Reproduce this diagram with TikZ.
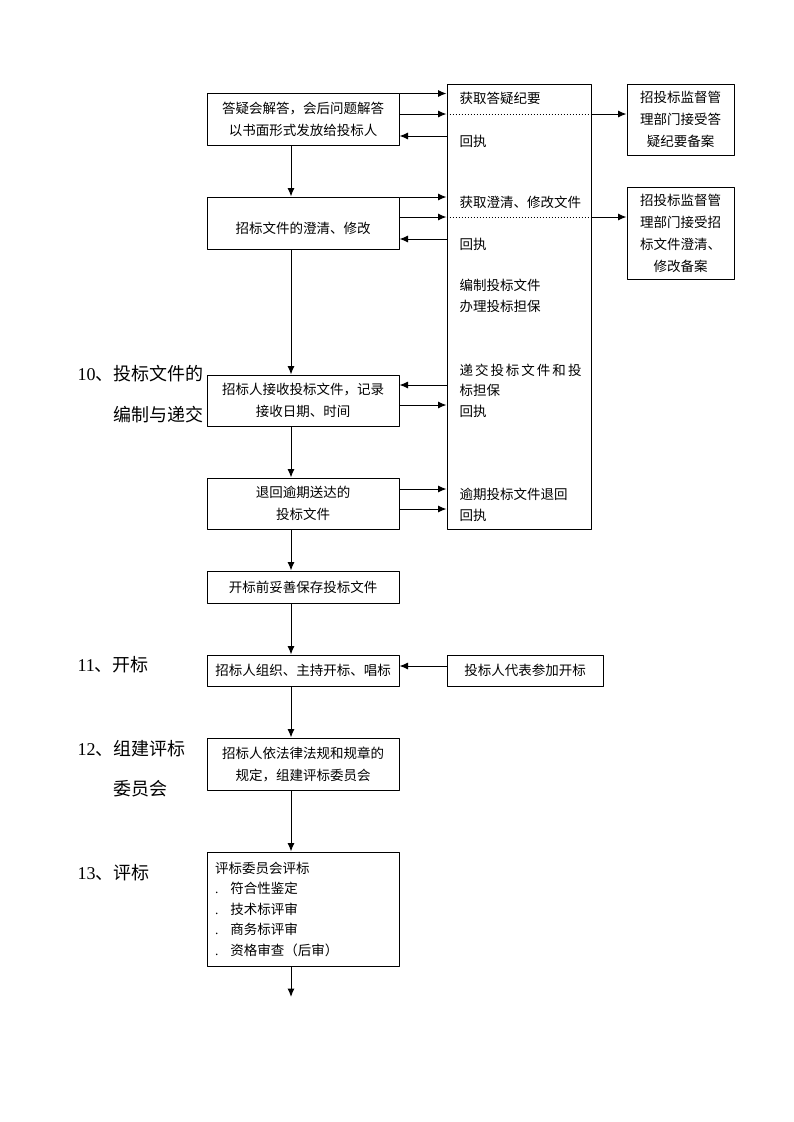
\documentclass[tikz,border=0pt]{standalone}
\usepackage{fontspec}
\setmainfont{Liberation Serif}
\newfontfamily\cjk{Noto Sans CJK SC}
\usetikzlibrary{arrows.meta}

\tikzset{
  box/.style={draw, line width=1pt, inner sep=0pt, align=center, minimum width=192pt},
  sidebox/.style={draw, line width=1pt, inner sep=0pt, align=center, minimum width=107pt},
  note/.style={anchor=west, inner sep=0pt, align=left},
  stage/.style={anchor=west, inner sep=0pt, font=\cjk\fontsize{18}{22}\selectfont}
}

\begin{document}
\begin{tikzpicture}[x=1pt,y=-1pt,line join=round,>={Latex[length=8.5pt,width=7pt]},font=\cjk\fontsize{13.5}{22}\selectfont,line width=1pt]
\useasboundingbox (0,0) rectangle (793,1122);
% trục dọc chính
\coordinate (spine) at (291,0);
\coordinate (tail) at (291,997);

% các ô bên trái
\node[box, minimum height=52pt] (A) at (303,119) {答疑会解答，会后问题解答\\以书面形式发放给投标人};
\node[box, minimum height=52pt] (B) at (303,223) {\\招标文件的澄清、修改};
\node[box, minimum height=51pt] (C) at (303,400.5) {招标人接收投标文件，记录\\接收日期、时间};
\node[box, minimum height=51pt] (D) at (303,503.5) {退回逾期送达的\\投标文件};
\node[box, minimum height=32pt] (E) at (303,587) {开标前妥善保存投标文件};
\node[box, minimum height=31pt] (F) at (303,670.5) {招标人组织、主持开标、唱标};
\node[box, minimum height=31pt, minimum width=156pt] (G) at (525,670.5) {投标人代表参加开标};
\node[box, minimum height=52pt] (H) at (303,764) {招标人依法律法规和规章的\\规定，组建评标委员会};
\node[box, minimum height=114pt, text width=176pt, align=left, font=\cjk\fontsize{13.5}{20.5}\selectfont] (I) at (303,909)
  {评标委员会评标\\{\rmfamily .}\hspace{12pt}符合性鉴定\\{\rmfamily .}\hspace{12pt}技术标评审\\{\rmfamily .}\hspace{12pt}商务标评审\\{\rmfamily .}\hspace{12pt}资格审查（后审）};

% ô lớn bên phải (投标人)
\node[draw, inner sep=0pt, minimum width=144pt, minimum height=445pt] (big) at (519,306.5) {};
\node[note] (t1) at (459,98) {获取答疑纪要};
\node[note] (t2) at (459,141) {回执};
\node[note] (t3) at (459,202) {获取澄清、修改文件};
\node[note] (t4) at (459,244) {回执};
\node[note, font=\cjk\fontsize{13.5}{21}\selectfont] (t5) at (459,295.5) {编制投标文件\\办理投标担保};
\node[note, font=\cjk\fontsize{13.5}{20.5}\selectfont] (t6) at (459,390.5)
  {\makebox[122pt][s]{递\hfill 交\hfill 投\hfill 标\hfill 文\hfill 件\hfill 和\hfill 投}\\标担保\\回执};
\node[note, font=\cjk\fontsize{13.5}{21}\selectfont] (t7) at (459,504.5) {逾期投标文件退回\\回执};

% ô giám sát
\node[sidebox, minimum height=71pt] (R1) at (680.5,119.5) {招投标监督管\\理部门接受答\\疑纪要备案};
\node[sidebox, minimum height=92pt] (R2) at (680.5,233) {招投标监督管\\理部门接受招\\标文件澄清、\\修改备案};

% nhãn các bước
\node[stage] (s10) at (77,374) {{\rmfamily 10}、投标文件的};
\node[stage] (s10b) at (113,415) {编制与递交};
\node[stage] (s11) at (77,665) {{\rmfamily 11}、开标};
\node[stage] (s12) at (77,749) {{\rmfamily 12}、组建评标};
\node[stage] (s12b) at (113,789) {委员会};
\node[stage] (s13) at (77,873) {{\rmfamily 13}、评标};

% mũi tên dọc
\draw[->] (A.south -| spine) -- (B.north -| spine);
\draw[->] (B.south -| spine) -- (C.north -| spine);
\draw[->] (C.south -| spine) -- (D.north -| spine);
\draw[->] (D.south -| spine) -- (E.north -| spine);
\draw[->] (E.south -| spine) -- (F.north -| spine);
\draw[->] (F.south -| spine) -- (H.north -| spine);
\draw[->] (H.south -| spine) -- (I.north -| spine);
\draw[->] (I.south -| spine) -- (tail);

% mũi tên ngang: 答疑
\draw[->] ([yshift=-1pt]A.north east) coordinate (a1) -- (a1 -| big.west);
\draw[->] ([yshift=5pt]A.east) coordinate (a2) -- (a2 -| big.west);
\draw[dotted] (a2 -| big.west) -- (a2 -| big.east);
\draw[->] (a2 -| big.east) -- (a2 -| R1.west);
\draw[<-] ([yshift=-17pt]A.east) coordinate (a3) -- (a3 -| big.west);

% mũi tên ngang: 澄清、修改
\draw[->] ([yshift=26pt]B.east) coordinate (b1) -- (b1 -| big.west);
\draw[->] ([yshift=6pt]B.east) coordinate (b2) -- (b2 -| big.west);
\draw[dotted] (b2 -| big.west) -- (b2 -| big.east);
\draw[->] (b2 -| big.east) -- (b2 -| R2.west);
\draw[<-] ([yshift=-16pt]B.east) coordinate (b3) -- (b3 -| big.west);

% mũi tên ngang: 递交 / 退回
\draw[<-] ([yshift=15.5pt]C.east) coordinate (c1) -- (c1 -| big.west);
\draw[->] ([yshift=-4.5pt]C.east) coordinate (c2) -- (c2 -| big.west);
\draw[->] ([yshift=14.5pt]D.east) coordinate (d1) -- (d1 -| big.west);
\draw[->] ([yshift=-5.5pt]D.east) coordinate (d2) -- (d2 -| big.west);

% 开标
\draw[->] ([yshift=4.5pt]G.west) coordinate (g1) -- (g1 -| F.east);
\end{tikzpicture}
\end{document}
